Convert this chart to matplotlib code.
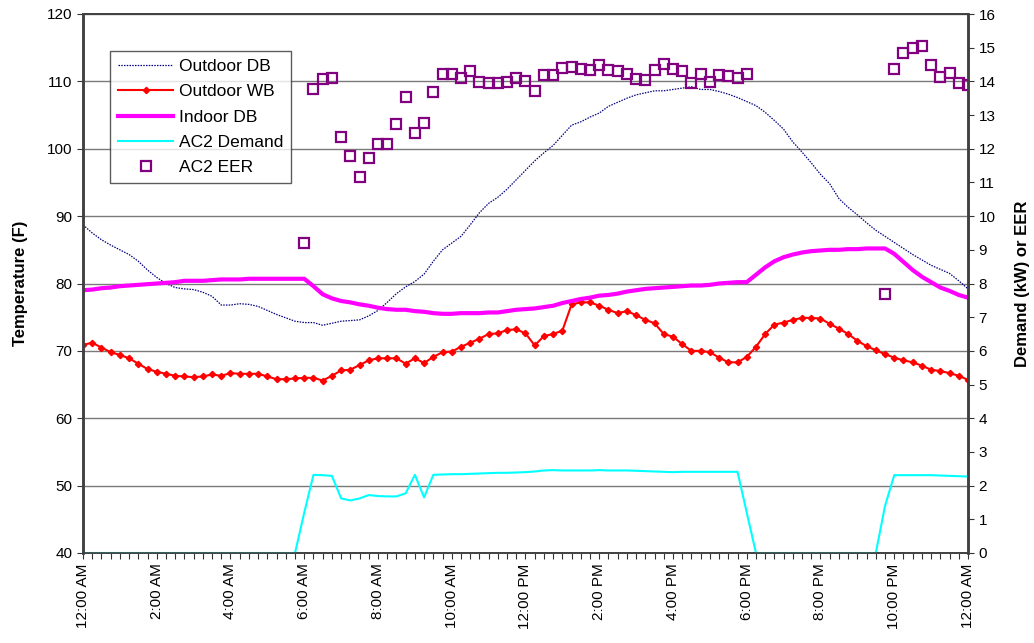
import numpy as np
import matplotlib
matplotlib.use("Agg")
import matplotlib.pyplot as plt

plt.rcParams["font.family"] = ["Liberation Sans", "DejaVu Sans"]

# 15-minute readings, 12:00 AM through 12:00 AM next day (97 points)
outdoor_db = [
    88.7, 87.5, 86.5, 85.7, 85.0, 84.3, 83.3, 82.0, 80.9, 80.0,
    79.4, 79.2, 79.1, 78.7, 78.1, 76.8, 76.8, 77.0, 76.9, 76.6,
    76.0, 75.4, 74.9, 74.4, 74.2, 74.2, 73.8, 74.1, 74.4, 74.5,
    74.6, 75.2, 76.0, 77.2, 78.5, 79.5, 80.3, 81.4, 83.3, 85.0,
    86.0, 87.0, 88.7, 90.5, 91.9, 92.8, 94.0, 95.4, 96.8, 98.2,
    99.4, 100.5, 102.0, 103.5, 104.0, 104.7, 105.3, 106.3, 106.9, 107.5,
    108.0, 108.3, 108.6, 108.6, 108.8, 109.0, 109.2, 108.8, 108.8, 108.5,
    108.1, 107.6, 107.0, 106.4, 105.4, 104.2, 102.9, 101.0, 99.5, 97.9,
    96.2, 94.8, 92.6, 91.3, 90.2, 89.0, 87.9, 87.0, 86.1, 85.2,
    84.3, 83.5, 82.7, 82.1, 81.5, 80.4, 79.2,
]
outdoor_wb = [
    70.9, 71.2, 70.5, 69.8, 69.4, 68.9, 68.1, 67.3, 66.9, 66.6,
    66.3, 66.2, 66.1, 66.2, 66.5, 66.3, 66.7, 66.6, 66.6, 66.6,
    66.2, 65.8, 65.8, 65.9, 66.0, 66.0, 65.6, 66.3, 67.1, 67.2,
    67.9, 68.6, 68.9, 68.9, 68.9, 68.1, 68.9, 68.2, 69.1, 69.8,
    69.9, 70.6, 71.2, 71.8, 72.5, 72.6, 73.1, 73.2, 72.6,
    70.8, 72.2, 72.5, 73.0, 76.9, 77.2, 77.2, 76.7, 76.1, 75.6,
    75.9, 75.3, 74.6, 74.1, 72.5, 72.1, 71.0, 70.0, 70.0, 69.8,
    69.0, 68.3, 68.3, 69.1, 70.6, 72.5, 73.9, 74.2, 74.6, 74.9,
    74.9, 74.8, 74.0, 73.3, 72.5, 71.5, 70.7, 70.1, 69.5, 69.0,
    68.6, 68.3, 67.8, 67.2, 67.0, 66.7, 66.3, 65.7,
]
indoor_db = [
    79.0, 79.1, 79.3, 79.4, 79.6, 79.7, 79.8, 79.9, 80.0, 80.1,
    80.2, 80.4, 80.4, 80.4, 80.5, 80.6, 80.6, 80.6, 80.7, 80.7,
    80.7, 80.7, 80.7, 80.7, 80.7, 79.6, 78.4, 77.8, 77.4, 77.2,
    76.9, 76.7, 76.4, 76.2, 76.1, 76.1, 75.9, 75.8, 75.6, 75.5,
    75.5, 75.6, 75.6, 75.6, 75.7, 75.7, 75.9, 76.1, 76.2, 76.3,
    76.5, 76.7, 77.1, 77.4, 77.7, 77.9, 78.2, 78.3, 78.5, 78.8,
    79.0, 79.2, 79.3, 79.4, 79.5, 79.6, 79.7, 79.7, 79.8, 80.0,
    80.1, 80.2, 80.2, 81.3, 82.4, 83.3, 83.9, 84.3, 84.6, 84.8,
    84.9, 85.0, 85.0, 85.1, 85.1, 85.2, 85.2, 85.2, 84.4, 83.2,
    82.0, 81.0, 80.2, 79.4, 78.9, 78.3, 77.9,
]
ac2_demand = [0.0] * 24 + [
    1.2, 2.32, 2.31, 2.29, 1.62, 1.56, 1.62, 1.72, 1.69, 1.68,
    1.68, 1.77, 2.32, 1.65, 2.32, 2.33, 2.34, 2.34, 2.35, 2.36,
    2.37, 2.38, 2.38, 2.39, 2.40, 2.42, 2.45, 2.46, 2.45, 2.45,
    2.45, 2.45, 2.46, 2.45, 2.45, 2.45, 2.44, 2.43, 2.42, 2.41,
    2.40, 2.41, 2.41, 2.41, 2.41, 2.41, 2.41, 2.41, 1.2,
] + [0.0] * 14 + [
    1.4, 2.31, 2.31, 2.31, 2.31, 2.31, 2.30, 2.29, 2.28, 2.27,
]
ac2_eer = [np.nan] * 24 + [
    9.21, 13.78, 14.06, 14.11, 12.34, 11.78, 11.17, 11.72, 12.13, 12.13,
    12.73, 13.55, 12.48, 12.77, 13.68, 14.23, 14.23, 14.09, 14.32, 13.97,
    13.94, 13.94, 13.99, 14.11, 14.01, 13.71, 14.20, 14.20, 14.39, 14.44,
    14.37, 14.34, 14.50, 14.34, 14.30, 14.21, 14.08, 14.05, 14.34, 14.52,
    14.36, 14.30, 13.95, 14.21, 13.99, 14.18, 14.16, 14.10, 14.21,
] + [np.nan] * 14 + [
    7.69, 14.36, 14.83, 14.98, 15.05, 14.49, 14.14, 14.26, 13.96, 13.89,
]

time_labels = ["12:00 AM", "2:00 AM", "4:00 AM", "6:00 AM", "8:00 AM", "10:00 AM",
               "12:00 PM", "2:00 PM", "4:00 PM", "6:00 PM", "8:00 PM", "10:00 PM",
               "12:00 AM"]

t = np.arange(len(outdoor_db))

fig = plt.figure(figsize=(10.34, 6.43), dpi=100)
ax = fig.add_axes([83 / 1034, 1 - 553 / 643, 885 / 1034, 539 / 643])
ax2 = ax.twinx()

grid_c = "#7a7a7a"
ax.set_ylim(40, 120)
ax.set_yticks(np.arange(40, 121, 10))
ax.set_xlim(0, 96)
ax.yaxis.grid(True, color=grid_c, lw=1.0)
ax.set_axisbelow(True)

l1, = ax.plot(t, outdoor_db, color="#000080", lw=0.9, ls=(0, (1.2, 1.0)),
              label="Outdoor DB")
l2, = ax.plot(t, outdoor_wb, color="#ff0000", lw=1.5, marker="D", ms=3.2,
              label="Outdoor WB")
l3, = ax.plot(t, indoor_db, color="#ff00ff", lw=3, label="Indoor DB")

ax2.set_ylim(0, 16)
ax2.set_yticks(np.arange(0, 17, 1))
l4, = ax2.plot(t, ac2_demand, color="#00ffff", lw=1.5, label="AC2 Demand")
l5, = ax2.plot(t, ac2_eer, ls="none", marker="s", ms=7, mfc="none",
               mec="#800080", mew=1.6, label="AC2 EER")

ax.set_xticks(t, minor=True)
ax.set_xticks(np.arange(0, 97, 8))
ax.set_xticklabels(time_labels, rotation=90, fontsize=11)
ax.tick_params(axis="x", which="both", direction="out", length=4, width=0.8,
               color="#333333")
ax.tick_params(axis="y", labelsize=11, length=4, color="#333333")
ax2.tick_params(axis="y", labelsize=11, length=4, color="#333333")

for a in (ax, ax2):
    for s in a.spines.values():
        s.set_color("#404040")
        s.set_linewidth(1.2)
    a.spines["left"].set_linewidth(1.8)
    a.spines["right"].set_linewidth(1.8)

ax.set_ylabel("Temperature (F)", fontsize=12, fontweight="bold", labelpad=14)
ax2.set_ylabel("Demand (kW) or EER", fontsize=12, fontweight="bold",
               rotation=90, labelpad=14)

leg = ax2.legend(handles=[l1, l2, l3, l4, l5], loc="upper left",
                 bbox_to_anchor=(0.0305, 0.931), fontsize=12.5,
                 frameon=True, fancybox=False, handlelength=3.2,
                 handletextpad=0.3, labelspacing=0.58, borderpad=0.45,
                 borderaxespad=0)
leg.get_frame().set_edgecolor("#333333")
leg.get_frame().set_linewidth(1.0)

fig.savefig("out.png", dpi=100)
